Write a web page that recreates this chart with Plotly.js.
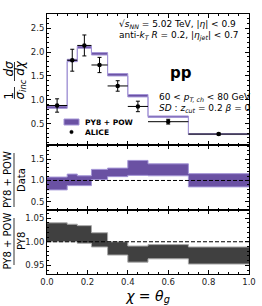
<!DOCTYPE html>
<html>
<head>
<meta charset="utf-8">
<script src="https://cdn.plot.ly/plotly-3.0.1.min.js"></script>
<style>html,body{margin:0;padding:0;background:#fff;}#chart{width:262px;height:306px;}</style>
</head>
<body>
<div id="chart"></div>
<script>
// Bin edges in chi = theta_g
const binEdges = [0, 0.1, 0.15, 0.22, 0.3, 0.4, 0.5, 0.7, 1.0];
// PY8 + POW band (top panel)
const modelLow  = [0.82, 1.80, 2.08, 1.94, 1.50, 1.06, 0.63, 0.27];
const modelHigh = [0.87, 1.85, 2.13, 1.99, 1.55, 1.11, 0.66, 0.29];
// ALICE data
const aliceY   = [0.88, 1.83, 2.14, 1.73, 1.29, 0.86, 0.54, 0.28];
const aliceErr = [0.14, 0.23, 0.22, 0.16, 0.11, 0.11, 0.05, 0.02];
// (PY8+POW)/Data band
const ratioDataLow  = [0.78, 0.88, 0.88, 1.02, 1.09, 1.12, 1.11, 0.85];
const ratioDataHigh = [1.08, 1.15, 1.11, 1.26, 1.29, 1.47, 1.39, 1.16];
// (PY8+POW)/PY8 band
const ratioPY8Low  = [1.000, 1.000, 0.997, 0.989, 0.972, 0.957, 0.964, 0.953];
const ratioPY8High = [1.040, 1.037, 1.034, 1.019, 1.000, 0.991, 0.994, 0.989];

const centers = [], halfW = [];
for (let i = 0; i < binEdges.length - 1; i++) {
  centers.push((binEdges[i] + binEdges[i+1]) / 2);
  halfW.push((binEdges[i+1] - binEdges[i]) / 2);
}
// step arrays: repeat last value so the hv step closes at the last edge
const stepY = arr => arr.concat([arr[arr.length - 1]]);

const purple = '#6a51a3', purpleEdge = '#a394d6';
const gray = '#404040', grayEdge = '#a8a8a8';

function band(lo, hi, fillc, edgec, xa, ya) {
  return [
    {type:'scatter', mode:'lines', x:binEdges, y:stepY(lo), line:{shape:'hv', color:edgec, width:1},
     xaxis:xa, yaxis:ya, showlegend:false, hoverinfo:'skip'},
    {type:'scatter', mode:'lines', x:binEdges, y:stepY(hi), line:{shape:'hv', color:edgec, width:1},
     fill:'tonexty', fillcolor:fillc, xaxis:xa, yaxis:ya, showlegend:false, hoverinfo:'skip'}
  ];
}

const traces = [].concat(
  band(modelLow, modelHigh, purple, purpleEdge, 'x', 'y'),
  [{type:'scatter', mode:'markers', x:centers, y:aliceY, name:'ALICE',
   marker:{color:'black', size:4.5},
   error_x:{type:'data', array:halfW, visible:true, color:'black', thickness:1, width:0},
   error_y:{type:'data', array:aliceErr, visible:true, color:'black', thickness:1, width:2},
   xaxis:'x', yaxis:'y', showlegend:false}],
  band(ratioDataLow, ratioDataHigh, purple, purpleEdge, 'x2', 'y2'),
  band(ratioPY8Low, ratioPY8High, gray, grayEdge, 'x3', 'y3')
);

const F = 'DejaVu Sans';
const axBase = {showline:true, linecolor:'black', linewidth:1, mirror:'allticks',
  ticks:'inside', ticklen:4, tickcolor:'black', zeroline:false, showgrid:false,
  tickfont:{family:F, size:8.5, color:'#222'}};
const xBase = Object.assign({}, axBase, {range:[0,1], dtick:0.2, tick0:0, tickformat:'.1f',
  minor:{ticks:'inside', ticklen:2, dtick:0.05, tickcolor:'black'}});

const L = 47, W = 202, T = 14, H = 260;
const px = v => (v - L) / W;
const py = v => 1 - (v - T) / H;

const ann = (text, x, y, size, extra) => Object.assign({text:text, xref:'paper', yref:'paper',
  x:px(x), y:py(y), showarrow:false, xanchor:'left', yanchor:'middle',
  font:{family:F, size:size, color:'black'}}, extra || {});
const rot = (text, x, y, size) => ann(text, x, y, size, {textangle:-90, xanchor:'center', yanchor:'middle'});
const fracBar = (x, y0, y1) => ({type:'line', xref:'paper', yref:'paper',
  x0:px(x), x1:px(x), y0:py(y0), y1:py(y1), line:{color:'black', width:0.8}});

const layout = {
  width:262, height:306, margin:{l:L, r:13, t:T, b:32},
  paper_bgcolor:'white', plot_bgcolor:'white',
  showlegend:false,
  xaxis: Object.assign({}, xBase, {anchor:'y', showticklabels:false}),
  xaxis2: Object.assign({}, xBase, {anchor:'y2', showticklabels:false}),
  xaxis3: Object.assign({}, xBase, {anchor:'y3', showticklabels:true,
    title:{text:'<i>χ</i> = <i>θ<sub>g</sub></i>', font:{family:F, size:14, color:'black'}, standoff:4}}),
  yaxis: Object.assign({}, axBase, {domain:[0.496,1], range:[0.05,2.8], dtick:0.5, tick0:0.5, tickformat:'.1f',
    minor:{ticks:'inside', ticklen:2, dtick:0.1, tickcolor:'black'}}),
  yaxis2: Object.assign({}, axBase, {domain:[0.248,0.496], range:[0.32,1.83], dtick:0.5, tick0:0.5, tickformat:'.1f',
    minor:{ticks:'inside', ticklen:2, dtick:0.1, tickcolor:'black'}}),
  yaxis3: Object.assign({}, axBase, {domain:[0,0.248], range:[0.932,1.068], dtick:0.05, tick0:0.95, tickformat:'.2f',
    minor:{ticks:'inside', ticklen:2, dtick:0.01, tickcolor:'black'}}),
  shapes:[
    {type:'line', xref:'x2', yref:'y2', x0:0, x1:1, y0:1, y1:1, line:{color:'black', width:1, dash:'4px,2px'}},
    {type:'line', xref:'x3', yref:'y3', x0:0, x1:1, y0:1, y1:1, line:{color:'black', width:1, dash:'4px,2px'}},
    fracBar(14.5, 87, 99), fracBar(14.5, 62, 81),
    fracBar(14, 153, 207),
    fracBar(14, 218, 265),
    // legend patch and marker
    {type:'rect', xref:'paper', yref:'paper', x0:px(64), x1:px(79), y0:py(125), y1:py(119),
     fillcolor:purple, line:{color:purpleEdge, width:1}},
    {type:'circle', xref:'paper', yref:'paper', x0:px(69.8), x1:px(73.2), y0:py(133.7), y1:py(130.3),
     fillcolor:'black', line:{color:'black', width:0.5}}
  ],
  annotations:[
    ann('√<i>s</i><sub><i>NN</i></sub> = 5.02 TeV, |<i>η</i>| < 0.9', 117, 25, 9),
    ann('anti-<i>k</i><sub><i>T</i></sub> <i>R</i> = 0.2, |<i>η</i><sub><i>jet</i></sub>| < 0.7', 117, 36, 9),
    ann('<b>pp</b>', 168, 73, 15),
    ann('60 < <i>p</i><sub><i>T, ch</i></sub> < 80 GeV', 157, 97, 9),
    ann('<i>SD</i> : <i>z</i><sub><i>cut</i></sub> = 0.2 <i>β</i> = 0', 157, 108, 9),
    ann('<b>PY8 + POW</b>', 83, 122, 7.5),
    ann('<b>ALICE</b>', 83, 132, 7.5),
    rot('1    <i>dσ</i>', 8.5, 80, 12),
    rot('<i>σ<sub>inc</sub> dχ</i>', 20.5, 80, 12),
    rot('PY8 + POW', 7, 180, 10),
    rot('Data', 21, 180, 10),
    rot('PY8 + POW', 6.5, 241, 10),
    rot('PY8', 21, 241, 10)
  ]
};

Plotly.newPlot('chart', traces, layout, {staticPlot:true, displayModeBar:false});
</script>
</body>
</html>
